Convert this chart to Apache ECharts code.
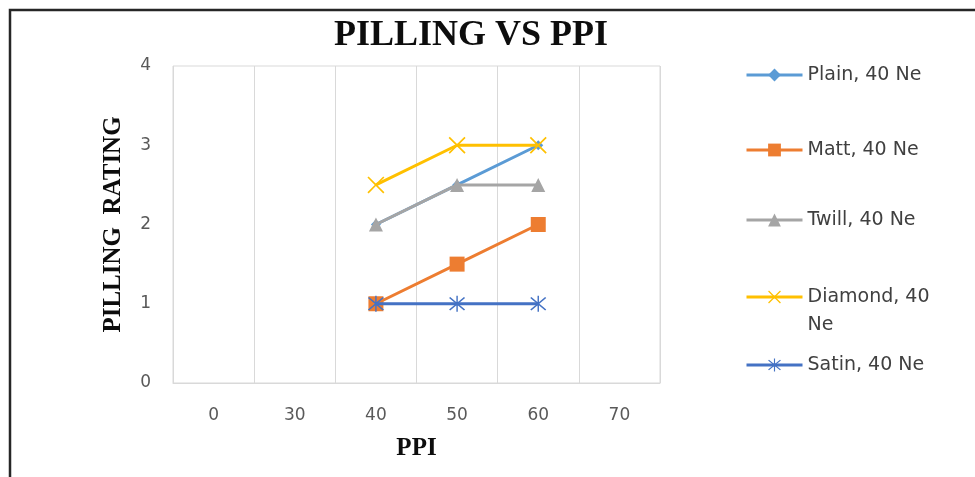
<!DOCTYPE html>
<html>
<head>
<meta charset="utf-8">
<script src="https://cdn.jsdelivr.net/npm/echarts@6/dist/echarts.min.js"></script>
<style>html,body{margin:0;padding:0;background:#fff}#c{width:975px;height:477px}</style>
</head>
<body>
<div id="c"></div>
<script>
var categories = ['0', '30', '40', '50', '60', '70'];
var seriesNames = ['Plain, 40 Ne', 'Matt, 40 Ne', 'Twill, 40 Ne', 'Diamond, 40 Ne', 'Satin, 40 Ne'];
var plainValues = [null, null, 2, 2.5, 3, null];
var mattValues = [null, null, 1, 1.5, 2, null];
var twillValues = [null, null, 2, 2.5, 2.5, null];
var diamondValues = [null, null, 2.5, 3, 3, null];
var satinValues = [null, null, 1, 1, 1, null];
var yTicks = [0, 1, 2, 3, 4];

var colors = ['#5B9BD5', '#ED7D31', '#A5A5A5', '#FFC000', '#4472C4'];
var xSym = 'path://M-10,-8.6L-8.6,-10L0,-1.4L8.6,-10L10,-8.6L1.4,0L10,8.6L8.6,10L0,1.4L-8.6,10L-10,8.6L-1.4,0Z';
var starSym = 'path://M-10,-8.6L-8.6,-10L0,-1.4L8.6,-10L10,-8.6L1.4,0L10,8.6L8.6,10L0,1.4L-8.6,10L-10,8.6L-1.4,0Z M-0.9,-12L0.9,-12L0.9,12L-0.9,12Z';
var symbols = ['diamond', 'rect', 'triangle', xSym, starSym];
var symbolSizes = [10, 15, 14, 17, 16];
var dataSets = [plainValues, mattValues, twillValues, diamondValues, satinValues];
var legendTops = [61, 136, 206, 255, 351];

var chart = echarts.init(document.getElementById('c'));
var series = seriesNames.map(function (n, i) {
  return {
    name: n,
    type: 'line',
    data: dataSets[i],
    symbol: symbols[i],
    symbolSize: symbolSizes[i],
    showAllSymbol: true,
    connectNulls: false,
    lineStyle: { color: colors[i], width: 3 },
    itemStyle: { color: colors[i] },
    emphasis: { disabled: true },
    z: 2 + i
  };
});
var legends = seriesNames.map(function (n, i) {
  return {
    orient: 'vertical',
    left: 745,
    top: legendTops[i],
    padding: 0,
    itemWidth: 56,
    itemHeight: 16,
    itemGap: 0,
    data: [n],
    lineStyle: { width: 3 },
    formatter: function (name) {
      return name === 'Diamond, 40 Ne' ? '\nDiamond, 40\nNe' : name;
    },
    textStyle: { fontFamily: 'DejaVu Sans, sans-serif', fontSize: 19, color: '#404040', lineHeight: 28 },
    selectedMode: false
  };
});

chart.setOption({
  animation: false,
  title: {
    text: 'PILLING VS PPI',
    left: 466,
    textAlign: 'center',
    top: 13,
    textStyle: { fontFamily: 'Liberation Serif, serif', fontWeight: 'bold', fontSize: 36, color: '#0d0d0d' }
  },
  graphic: [{
    type: 'rect',
    shape: { x: 10, y: 10, width: 1000, height: 500 },
    style: { fill: 'none', stroke: '#262626', lineWidth: 2.5 },
    silent: true
  }],
  legend: legends,
  grid: { left: 173, right: 315, top: 66, bottom: 94, show: true, borderColor: '#d9d9d9', borderWidth: 1 },
  xAxis: {
    type: 'category',
    data: categories,
    boundaryGap: true,
    name: 'PPI',
    nameLocation: 'middle',
    nameGap: 53,
    nameTextStyle: { fontFamily: 'Liberation Serif, serif', fontWeight: 'bold', fontSize: 25, color: '#0d0d0d' },
    axisLine: { show: true, lineStyle: { color: '#d9d9d9' } },
    axisTick: { show: false },
    axisLabel: { fontFamily: 'DejaVu Sans, sans-serif', fontSize: 17, color: '#595959', margin: 24 },
    splitLine: { show: true, lineStyle: { color: '#d9d9d9', width: 1 } }
  },
  yAxis: {
    type: 'value',
    min: yTicks[0],
    max: yTicks[yTicks.length - 1],
    interval: 1,
    name: 'PILLING  RATING',
    nameLocation: 'middle',
    nameGap: 47,
    nameRotate: 90,
    nameTextStyle: { fontFamily: 'Liberation Serif, serif', fontWeight: 'bold', fontSize: 25, color: '#0d0d0d' },
    axisLine: { show: false },
    axisTick: { show: false },
    axisLabel: { fontFamily: 'DejaVu Sans, sans-serif', fontSize: 17, color: '#595959', margin: 22 },
    splitLine: { show: false }
  },
  series: series
});
</script>
</body>
</html>
